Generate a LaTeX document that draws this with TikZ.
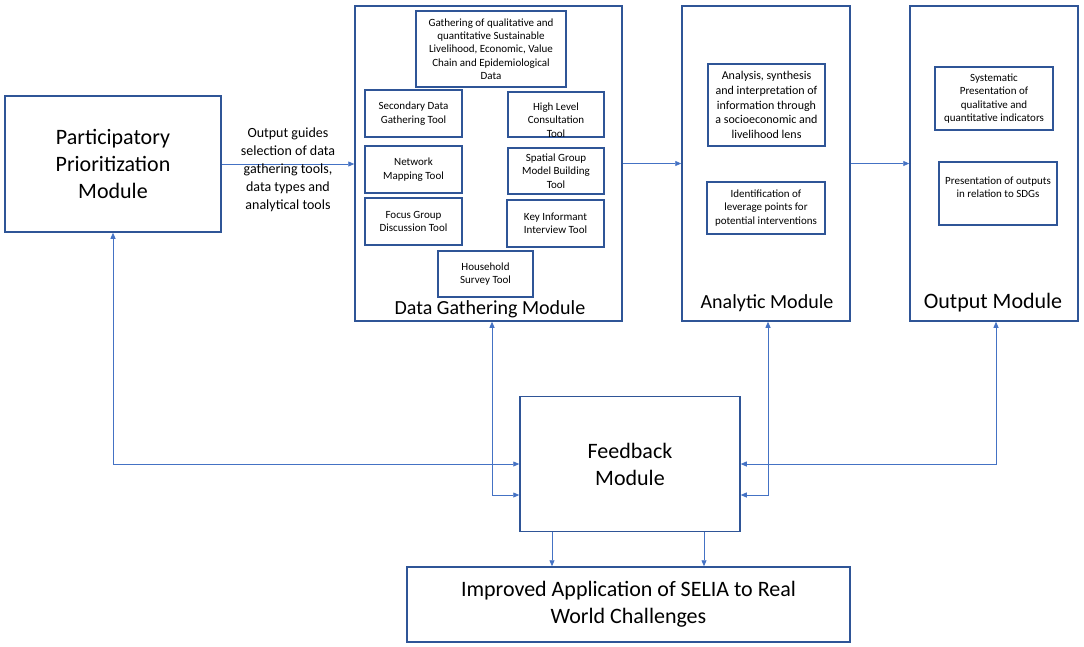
\documentclass[tikz,border=0pt]{standalone}
\usepackage{fontspec}
\setmainfont{Carlito}
\usepackage{tikz}
\definecolor{moduleblue}{RGB}{47,85,151}
\definecolor{linkblue}{RGB}{68,114,196}
\usetikzlibrary{arrows.meta,positioning,calc}

\begin{document}
\begin{tikzpicture}[
    x=1pt, y=-1pt,
    module/.style={rectangle, draw=moduleblue, line width=1.5pt, inner sep=0pt, align=center, font=\fontsize{22}{27}\selectfont},
    toolbox/.style={rectangle, draw=moduleblue, line width=1.4pt, inner sep=0pt, align=center, font=\fontsize{11}{13.3}\selectfont},
    modtitle/.style={inner sep=0pt, font=\fontsize{20}{24}\selectfont},
    guide/.style={inner sep=0pt, align=center, font=\fontsize{14}{18}\selectfont},
    arrow/.style={-{Triangle[length=6pt,width=5pt]}, draw=linkblue, line width=0.8pt},
    twoway/.style={{Triangle[length=6pt,width=5pt]}-{Triangle[length=6pt,width=5pt]}, draw=linkblue, line width=0.8pt}
]
\useasboundingbox (0,0) rectangle (1084,646);

\node[module, minimum width=216pt, minimum height=136pt] (pp) at (113,164) {Participatory\\Prioritization\\Module};
\node[module, minimum width=267pt, minimum height=315pt] (dgm) at (488.5,163.5) {};
\node[module, minimum width=168pt, minimum height=315pt] (am) at (766,163.5) {};
\node[module, minimum width=168pt, minimum height=315pt] (om) at (994,163.5) {};
\node[module, minimum width=220pt, minimum height=135pt] (fb) at (630,464) {Feedback\\Module};
\node[module, minimum width=443pt, minimum height=75pt] (imp) at (628.5,604.5) {Improved Application of SELIA to Real\\World Challenges};

\node[modtitle] (dgmtitle) at (490,309) {Data Gathering Module};
\node[modtitle] (amtitle) at (767,303) {Analytic Module};
\node[modtitle, font=\fontsize{22}{26}\selectfont] (omtitle) at (993,303) {Output Module};

\node[toolbox, minimum width=150pt, minimum height=76pt] (gather) at (491,49) {Gathering of qualitative and\\quantitative Sustainable\\Livelihood, Economic, Value\\Chain and Epidemiological\\Data};
\node[toolbox, minimum width=97pt, minimum height=47pt] (second) at (413.5,113.5) {Secondary Data\\Gathering Tool};
\node[toolbox, minimum width=96pt, minimum height=45pt] (consult) at (556,114.5) {};
\node[toolbox, draw=none] (consulttext) at (556,120) {High Level\\Consultation\\Tool};
\node[toolbox, minimum width=97pt, minimum height=47pt] (network) at (413.5,169.5) {Network\\Mapping Tool};
\node[toolbox, minimum width=96pt, minimum height=46pt] (spatial) at (556,171) {Spatial Group\\Model Building\\Tool};
\node[toolbox, minimum width=97pt, minimum height=47pt] (focus) at (413.5,221.5) {Focus Group\\Discussion Tool};
\node[toolbox, minimum width=97pt, minimum height=47pt] (keyinf) at (555.5,223.5) {Key Informant\\Interview Tool};
\node[toolbox, minimum width=95pt, minimum height=46pt] (house) at (485.5,274) {Household\\Survey Tool};

\node[toolbox, font=\fontsize{12}{14.8}\selectfont, minimum width=117pt, minimum height=82pt] (synth) at (766.5,105) {Analysis, synthesis\\and interpretation of\\information through\\a socioeconomic and\\livelihood lens};
\node[toolbox, minimum width=118pt, minimum height=52pt] (leverage) at (766,208) {Identification of\\leverage points for\\potential interventions};

\node[toolbox, minimum width=118pt, minimum height=63pt] (indic) at (994,98.5) {Systematic\\Presentation of\\qualitative and\\quantitative indicators};
\node[toolbox, minimum width=118pt, minimum height=63pt] (sdgs) at (998,193.5) {Presentation of outputs\\in relation to SDGs\\\mbox{}};

\draw[arrow] (pp.east) -- node[guide, yshift=-5.5pt] {Output guides\\selection of data\\gathering tools,\\data types and\\analytical tools} (pp.east -| dgm.west);
\draw[arrow] (dgm.east) -- (am.west);
\draw[arrow] (am.east) -- (om.west);

\draw[twoway] (pp.south) |- (fb.west);
\draw[twoway] ([xshift=3.5pt]dgm.south) |- ([yshift=-31pt]fb.west);
\draw[twoway] ([xshift=2pt]am.south) |- ([yshift=-31pt]fb.east);
\draw[twoway] ([xshift=2pt]om.south) |- (fb.east);

\draw[arrow] ([xshift=-78pt]fb.south) -- ([xshift=-78pt]fb.south |- imp.north);
\draw[arrow] ([xshift=74pt]fb.south) -- ([xshift=74pt]fb.south |- imp.north);

\end{tikzpicture}
\end{document}
